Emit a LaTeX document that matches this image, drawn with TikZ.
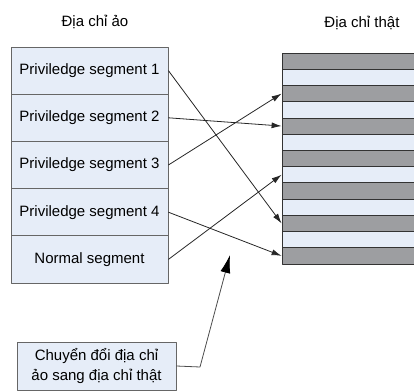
\documentclass[tikz,border=0pt]{standalone}
\usepackage{fontspec}
\setmainfont{Liberation Sans}
\usetikzlibrary{arrows.meta}
\definecolor{segfill}{HTML}{E6EDF8}
\definecolor{pagedark}{HTML}{9D9EA1}
\begin{document}
\begin{tikzpicture}[x=1pt,y=-1pt,line width=.8pt,>={Latex[length=10pt,width=6pt]},
 line join=round,font=\fontsize{15}{20}\selectfont,
 seg/.style={draw=black!60,fill=segfill,minimum width=157pt,minimum height=47.2pt,inner sep=0pt},
 page/.style={draw=black!80,minimum width=134pt,minimum height=16.23pt,inner sep=0pt},
 map/.style={->,draw=black!85}]
\clip (0,0) rectangle (414,390);
\node (hdrv) at (95,22) {Địa chỉ ảo};
\node (hdrp) at (362,23) {Địa chỉ thật};
% virtual segments
\foreach \i/\txt in {1/Priviledge segment 1,2/Priviledge segment 2,
 3/Priviledge segment 3,4/Priviledge segment 4,5/Normal segment}
 \node[seg] (v\i) at (89.5,{23.4+47.2*\i}) {\txt};
% physical frames
\foreach \i in {1,...,13}{
 \ifodd\i \def\col{pagedark}\else \def\col{segfill}\fi
 \node[page,fill=\col] (p\i) at (349,{44.9+16.23*\i}) {};
}
\draw[map] (v1.east) -- (p11.west);
\draw[map] (v2.east) -- (p5.west);
\draw[map] (v3.east) -- (p3.west);
\draw[map] (v4.east) -- (p13.west);
\draw[map] (v5.east) -- (p8.west);
% translation note
\node[seg,minimum width=159pt,minimum height=48pt,align=center] (conv) at (96.5,366)
 {Chuyển đổi địa chỉ\\ảo sang địa chỉ thật};
\coordinate (bend) at (200,367);
\coordinate (tip) at (230,255);
\draw[->,>={Latex[length=18pt,width=10pt,color=black]},draw=black!70] (conv.east) -- (bend) -- (tip);
\end{tikzpicture}
\end{document}
